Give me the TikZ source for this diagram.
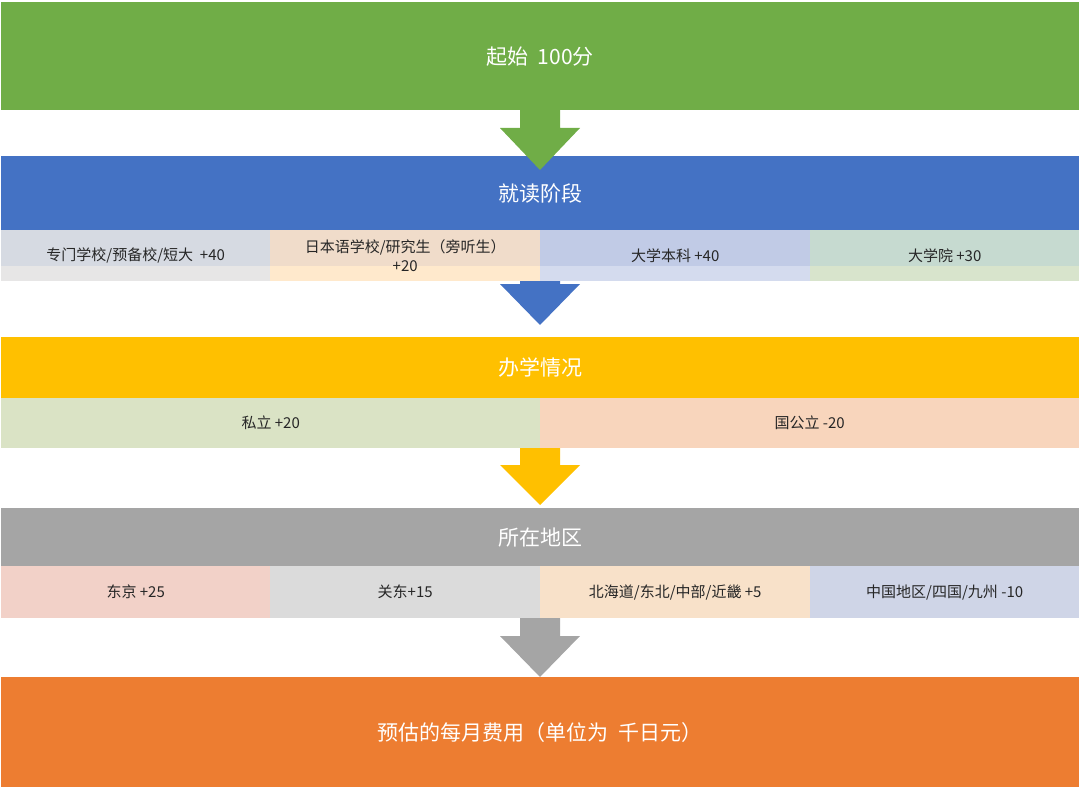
\documentclass[tikz,border=0pt]{standalone}
\usepackage{fontspec}
\setmainfont{Noto Sans CJK SC}
\definecolor{cgreen}{HTML}{70AD47}
\definecolor{cblue}{HTML}{4472C4}
\definecolor{cyellow}{HTML}{FFC000}
\definecolor{cgray}{HTML}{A5A5A5}
\definecolor{corange}{HTML}{ED7D31}
\definecolor{sa}{HTML}{E7E6E6}\definecolor{sat}{HTML}{D6DAE2}
\definecolor{sb}{HTML}{FFE9CC}\definecolor{sbt}{HTML}{F0DCCA}
\definecolor{sc}{HTML}{D4DBEE}\definecolor{sct}{HTML}{C1CBE6}
\definecolor{sd}{HTML}{D8E4CC}\definecolor{sdt}{HTML}{C6DAD0}
\definecolor{pa}{HTML}{DAE3C5}\definecolor{pb}{HTML}{F8D5BC}
\definecolor{ra}{HTML}{F2D1C8}\definecolor{rb}{HTML}{DBDBDB}
\definecolor{rc}{HTML}{F8E1C9}\definecolor{rd}{HTML}{CFD5E7}
\newcommand{\flowarrow}[4]{%
  \fill[#1] (520,#2) -- (560,#2) -- (560,#3) -- (580,#3) -- (540,#4) -- (500,#3) -- (520,#3) -- cycle;}
\begin{document}
\begin{tikzpicture}[x=1pt, y=-1pt,
  band/.style = {anchor=north west, inner sep=0, minimum width=1078pt, text=white, font=\fontsize{21}{25}\selectfont},
  cell/.style = {anchor=north west, inner sep=0, text=black!85, font=\fontsize{15}{19}\selectfont, align=center}]
  \useasboundingbox (0,0) rectangle (1080,789);

  \node[band, fill=cgreen, minimum height=108pt] (start) at (1,2) {起始\ \ 100分};
  \node[band, fill=cblue, minimum height=74pt] (stage) at (1,156) {就读阶段};
  \node[band, fill=cyellow, minimum height=61pt] (school) at (1,337) {办学情况};
  \node[band, fill=cgray, minimum height=58pt] (region) at (1,508) {所在地区};
  \node[band, fill=corange, minimum height=110pt] (cost) at (1,677) {预估的每月费用（单位为\ \ 千日元）};

  % stage cells
  \fill[sa] (1,230) rectangle (270,281);
  \fill[sat] (1,230) rectangle (270,266);
  \fill[sb] (270,230) rectangle (540,281);
  \fill[sbt] (270,230) rectangle (540,266);
  \fill[sc] (540,230) rectangle (810,281);
  \fill[sct] (540,230) rectangle (810,266);
  \fill[sd] (810,230) rectangle (1079,281);
  \fill[sdt] (810,230) rectangle (1079,266);
  \node[cell, minimum width=269pt, minimum height=51pt] (s1) at (1,230) {专门学校/预备校/短大\ \ +40};
  \node[cell, minimum width=270pt, minimum height=51pt] (s2) at (270,230) {日本语学校/研究生（旁听生）\\+20};
  \node[cell, minimum width=270pt, minimum height=51pt] (s3) at (540,230) {大学本科 +40};
  \node[cell, minimum width=269pt, minimum height=51pt] (s4) at (810,230) {大学院 +30};

  % school cells
  \node[cell, fill=pa, minimum width=539pt, minimum height=50pt] (p1) at (1,398) {私立 +20};
  \node[cell, fill=pb, minimum width=539pt, minimum height=50pt] (p2) at (540,398) {国公立 -20};

  % region cells
  \node[cell, fill=ra, minimum width=269pt, minimum height=52pt] (r1) at (1,566) {东京 +25};
  \node[cell, fill=rb, minimum width=270pt, minimum height=52pt] (r2) at (270,566) {关东+15};
  \node[cell, fill=rc, minimum width=270pt, minimum height=52pt] (r3) at (540,566) {北海道/东北/中部/近畿 +5};
  \node[cell, fill=rd, minimum width=269pt, minimum height=52pt] (r4) at (810,566) {中国地区/四国/九州 -10};

  \flowarrow{cgreen}{110}{128}{170}
  \flowarrow{cblue}{281}{284}{325}
  \flowarrow{cyellow}{448}{465}{505}
  \flowarrow{cgray}{618}{636}{677}
\end{tikzpicture}
\end{document}
